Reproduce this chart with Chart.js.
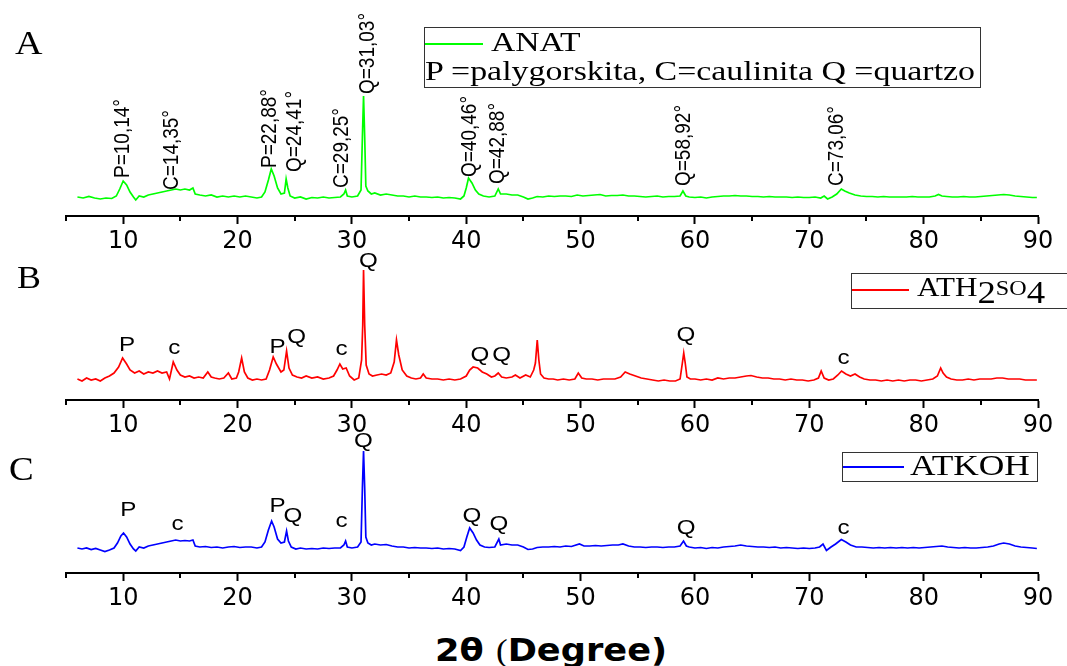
<!DOCTYPE html>
<html lang="pt">
<head>
<meta charset="utf-8">
<title>DRX - ANAT, ATH2SO4, ATKOH</title>
<script src="https://cdn.jsdelivr.net/npm/chart.js@4.4.1/dist/chart.umd.min.js"></script>
<style>
  body { margin: 0; background: #fff; }
  #fig { position: relative; width: 1067px; height: 666px; overflow: hidden; background: #fff; }
  #fig canvas { position: absolute; left: 0; }
  .letra { position: absolute; font-family: "Liberation Serif", serif; line-height: 1; transform: scaleX(1.12); transform-origin: 0 0; }
  .legenda { position: absolute; border: 1.5px solid #333; box-sizing: border-box; background: #fff; }
  .amostra { position: absolute; height: 2px; }
  .leg-txt { position: absolute; font-family: "Liberation Serif", serif; line-height: 1; white-space: nowrap; transform-origin: 0 0; }
  .leg-txt span { line-height: 0; position: relative; }
  .baixo { font-size: 32px; top: 7px; }
  .pequeno { font-size: 21px; top: -1px; }
  #titulo { position: absolute; left: 435px; top: 634px; font-family: "DejaVu Sans", sans-serif; font-weight: bold; font-size: 32px; line-height: 1; white-space: nowrap; transform: scaleX(1.1); transform-origin: 0 0; }
  #titulo span { font-family: "Liberation Serif", serif; font-weight: normal; }
</style>
</head>
<body>
<div id="fig">
  <canvas id="grafA" width="1067" height="250" style="top:10px"></canvas>
  <canvas id="grafB" width="1067" height="250" style="top:194px"></canvas>
  <canvas id="grafC" width="1067" height="250" style="top:367px"></canvas>

  <div class="letra" style="left:15px; top:26px; font-size:34px">A</div>
  <div class="letra" style="left:17px; top:261px; font-size:32px">B</div>
  <div class="letra" style="left:9px; top:453px; font-size:33px">C</div>

  <div class="legenda" style="left:424px; top:27px; width:557px; height:61px">
    <div class="amostra" style="left:0; top:15px; width:58px; background:#00ff00"></div>
    <div class="leg-txt" style="left:66px; top:0; font-size:28px; transform:scaleX(1.2)">ANAT</div>
    <div class="leg-txt" style="left:0; top:29px; font-size:28px; transform:scaleX(1.21)">P =palygorskita, C=caulinita Q =quartzo</div>
  </div>

  <div class="legenda" style="left:851px; top:273px; width:240px; height:36px">
    <div class="amostra" style="left:0; top:15px; width:57px; background:#ff0000"></div>
    <div class="leg-txt" style="left:65px; top:0; font-size:27px; transform:scaleX(1.15)">ATH<span class="baixo">2</span><span class="pequeno">SO</span><span class="baixo">4</span></div>
  </div>

  <div class="legenda" style="left:842px; top:452px; width:196px; height:30px">
    <div class="amostra" style="left:0; top:13px; width:61px; background:#0000ff"></div>
    <div class="leg-txt" style="left:67px; top:-2px; font-size:29px; transform:scaleX(1.22)">ATKOH</div>
  </div>

  <div id="titulo">2θ <span>(</span>Degree)</div>
</div>

<script>
// difratogramas: [2θ (graus), intensidade (u.a.)]
const anat = [
  [6.0,19],[6.5,18],[7.0,19.5],[7.5,18],[8.0,17],[8.5,18],[9.0,17.5],[9.4,20],[9.7,27],[10.0,35],
  [10.3,31],[10.6,24],[10.9,19],[11.1,16],[11.4,20],[11.8,19],[12.2,21],[12.6,22],[13.0,23],[13.4,24],
  [13.8,25],[14.2,26],[14.6,27],[15.0,26],[15.4,27],[15.8,26],[16.1,28],[16.3,22],[16.7,21],[17.2,20],
  [17.7,21],[18.2,19],[18.7,20],[19.2,19],[19.7,20],[20.2,19],[20.7,20],[21.2,19],[21.7,18],[22.1,19],
  [22.4,24],[22.7,36],[22.95,47],[23.2,40],[23.5,28],[23.8,22],[24.1,23],[24.25,37],[24.4,28],[24.6,20],
  [25.0,18],[25.5,19],[26.0,17],[26.5,18.5],[27.0,18],[27.5,19],[28.0,18],[28.5,18.5],[29.0,19],[29.3,22],
  [29.45,26],[29.6,20],[30.0,19],[30.5,20],[30.8,26],[30.92,79],[31.02,120],[31.12,79],[31.22,30],[31.4,25],
  [31.7,22],[32.0,23],[32.5,21],[33.0,22],[33.5,21],[34.0,20],[34.5,20],[35.0,19],[35.5,20],[36.0,19],
  [36.5,19],[37.0,18.5],[37.5,19],[38.0,18],[38.5,18.5],[39.0,18],[39.5,17],[39.8,20],[40.0,28],[40.2,38],
  [40.5,33],[40.8,26],[41.1,22],[41.5,20],[42.0,19],[42.5,20],[42.8,27],[43.0,22],[43.5,22],[44.0,21],
  [44.5,21],[45.0,19],[45.4,17],[45.8,18],[46.2,19.5],[46.7,19],[47.2,20],[47.7,19.5],[48.2,20],[48.7,20],
  [49.2,19.5],[49.7,21],[50.2,20],[50.7,20.5],[51.2,21],[51.7,21.5],[52.2,20],[52.7,20.5],[53.2,20.5],[53.7,21],
  [54.2,20],[54.7,20],[55.2,19.5],[55.7,19],[56.2,19.5],[56.7,20],[57.2,19],[57.7,19.5],[58.2,19.5],[58.7,20],
  [58.95,25],[59.2,20],[59.5,19],[60.0,18.5],[60.5,19],[61.0,18],[61.5,19],[62.0,19.5],[62.5,20],[63.0,20],
  [63.5,20.5],[64.0,20],[64.5,20],[65.0,19.5],[65.5,19.5],[66.0,19],[66.5,19.5],[67.0,19],[67.5,19],[68.0,19],
  [68.5,18.5],[69.0,19],[69.5,18.5],[70.0,18.5],[70.5,19],[71.0,18],[71.3,20],[71.6,17],[72.0,19],[72.4,22],
  [72.8,27],[73.1,25],[73.5,23],[74.0,21],[74.5,20],[75.0,19.5],[75.5,19.5],[76.0,19],[76.5,19.5],[77.0,19],
  [77.5,19],[78.0,19],[78.5,19],[79.0,19.5],[79.5,19],[80.0,19],[80.5,19],[81.0,20],[81.3,21.5],[81.6,20],
  [82.0,19.5],[82.5,19],[83.0,19],[83.5,19.5],[84.0,19],[84.5,19],[85.0,19.5],[85.5,20],[86.0,20.5],[86.5,21],
  [87.0,21.5],[87.5,21],[88.0,20],[88.5,19.5],[89.0,19],[89.5,18.5],[89.9,18.5]
];

const ath2so4 = [
  [6.0,21],[6.4,19],[6.8,22],[7.2,20],[7.6,21],[8.0,19],[8.4,22],[8.8,24],[9.2,27],[9.6,33],
  [9.95,42],[10.3,36],[10.6,30],[11.0,27],[11.4,29],[11.8,26],[12.2,28],[12.6,27],[13.0,29],[13.4,27],
  [13.8,28],[14.05,21],[14.38,38],[14.7,30],[15.0,25],[15.4,23],[15.8,24],[16.2,22],[16.6,23],[17.0,22],
  [17.4,28],[17.7,23],[18.0,22],[18.4,21],[18.8,22],[19.2,27],[19.5,21],[19.9,22],[20.1,28],[20.36,42],
  [20.6,28],[20.9,22],[21.3,20],[21.7,21],[22.1,20],[22.5,21],[22.8,30],[23.12,43],[23.4,36],[23.8,28],
  [24.05,30],[24.29,49],[24.5,32],[24.8,25],[25.2,23],[25.6,22],[26.0,24],[26.5,22],[27.0,23],[27.5,21],
  [28.0,22],[28.4,24],[28.7,30],[28.95,36],[29.2,31],[29.5,32],[29.8,24],[30.2,20],[30.6,22],[30.85,40],
  [30.95,75],[31.02,130],[31.12,75],[31.25,35],[31.5,26],[31.8,24],[32.2,25],[32.6,26],[33.0,25],[33.4,27],
  [33.7,38],[33.9,60],[34.1,45],[34.4,30],[34.8,24],[35.2,22],[35.6,21],[36.0,22],[36.24,26],[36.5,22],
  [37.0,21],[37.5,21],[38.0,20],[38.5,21],[39.0,20],[39.5,21],[40.0,24],[40.3,30],[40.6,33],[41.0,32],
  [41.4,28],[41.8,26],[42.2,23],[42.5,24],[42.8,27],[43.1,23],[43.5,22],[44.0,23],[44.3,25],[44.7,22],
  [45.2,25],[45.6,23],[45.9,30],[46.05,37],[46.21,60],[46.35,40],[46.5,26],[46.8,22],[47.2,21],[47.6,21],
  [48.0,20],[48.5,21],[49.0,20],[49.5,21],[49.8,27],[50.1,22],[50.5,21],[51.0,21],[51.5,20],[52.0,21],
  [52.5,21],[53.0,21],[53.5,23],[53.9,28],[54.3,26],[54.8,24],[55.3,22],[55.8,21],[56.3,20],[56.8,19],
  [57.3,20],[57.8,19],[58.3,19],[58.7,21],[58.9,37],[59.02,47],[59.15,37],[59.3,23],[59.6,21],[60.0,21],
  [60.5,20],[61.0,21],[61.5,20],[62.0,22],[62.5,21],[63.0,22],[63.5,22],[64.0,23],[64.5,24],[64.9,24.5],
  [65.4,23],[65.9,22],[66.4,22],[66.9,21],[67.4,21],[67.9,20],[68.4,21],[68.9,20],[69.4,20],[69.9,19],
  [70.4,20],[70.8,22],[71.04,29],[71.3,22],[71.7,20],[72.1,21],[72.5,25],[72.82,29],[73.2,26],[73.6,24],
  [74.0,26],[74.4,23],[74.8,21],[75.3,20],[75.8,20],[76.3,19],[76.8,20],[77.3,19],[77.8,20],[78.3,19],
  [78.8,20],[79.3,20],[79.8,19],[80.3,20],[80.8,21],[81.2,24],[81.49,32],[81.7,27],[82.0,23],[82.4,21],
  [82.9,20],[83.4,20],[83.9,21],[84.4,20],[84.9,21],[85.4,21],[85.9,21],[86.4,22],[86.9,22],[87.4,21],
  [87.9,21],[88.4,21],[88.9,20],[89.4,20],[89.9,20]
];

const atkoh = [
  [6.0,25],[6.4,24],[6.8,25],[7.2,23.5],[7.6,24.5],[8.0,23],[8.4,21.5],[8.8,23],[9.2,25],[9.5,30],
  [9.8,37],[10.03,40],[10.3,36],[10.6,29],[10.9,24],[11.1,22],[11.4,26],[11.8,25],[12.2,27],[12.6,28],
  [13.0,29],[13.4,30],[13.8,31],[14.2,32],[14.6,33],[15.0,32],[15.4,32.5],[15.8,32],[16.1,33],[16.3,27],
  [16.7,26],[17.2,26.5],[17.7,25.5],[18.2,26],[18.7,25],[19.2,26],[19.7,26.5],[20.2,25.5],[20.7,26],[21.2,26],
  [21.7,25],[22.1,26],[22.4,31],[22.7,43],[22.98,52],[23.2,46],[23.5,34],[23.8,30],[24.1,31],[24.29,42],
  [24.45,32],[24.7,26],[25.1,24],[25.5,25],[26.0,24],[26.5,24.5],[27.0,24],[27.5,25],[28.0,24.5],[28.5,25],
  [29.0,25],[29.3,28],[29.45,32],[29.6,26],[30.0,25],[30.5,26],[30.8,31],[30.92,85],[31.02,122],[31.12,85],
  [31.22,36],[31.4,30],[31.7,28],[32.0,29],[32.5,28],[33.0,28.5],[33.5,27],[34.0,26],[34.5,26],[35.0,25],
  [35.5,25.5],[36.0,25],[36.5,25],[37.0,24.5],[37.5,25],[38.0,24],[38.5,24.5],[39.0,24],[39.5,22.5],[39.8,26],
  [40.05,36],[40.3,45],[40.6,40],[40.9,33],[41.2,28],[41.6,26],[42.0,25.5],[42.5,26],[42.85,34],[43.0,28],
  [43.5,29],[44.0,28],[44.5,28],[45.0,26],[45.4,23.5],[45.8,24],[46.2,25.5],[46.7,26],[47.2,26],[47.7,26.5],
  [48.2,26],[48.7,27],[49.2,26.5],[49.9,29],[50.3,27],[50.8,27],[51.3,27.5],[51.8,27],[52.3,27.5],[52.8,28],
  [53.3,28],[53.7,29],[54.2,27],[54.7,26],[55.2,26],[55.7,25.5],[56.2,26],[56.7,26],[57.2,25.5],[57.7,26],
  [58.2,26],[58.7,27],[59.0,32],[59.25,27],[59.5,26],[60.0,25],[60.5,25.5],[61.0,24.5],[61.5,25.5],[62.0,25],
  [62.5,26],[63.0,26.5],[63.5,27],[64.0,28],[64.5,27],[65.0,26.5],[65.5,26],[66.0,26],[66.5,25.5],[67.0,26],
  [67.5,25],[68.0,25.5],[68.5,25],[69.0,24.5],[69.5,25],[70.0,24.5],[70.5,25],[70.9,26],[71.2,29],[71.5,22.5],
  [71.9,26],[72.3,29],[72.8,33.5],[73.2,31],[73.6,28],[74.1,26],[74.6,26],[75.1,25.5],[75.6,25],[76.1,25.5],
  [76.6,25],[77.1,25.5],[77.6,25],[78.1,25.5],[78.6,25],[79.1,25.5],[79.6,25],[80.1,25.5],[80.6,26],[81.1,26.5],
  [81.6,27],[82.1,26],[82.6,25.5],[83.1,25],[83.6,25.5],[84.1,25],[84.6,25],[85.1,25.5],[85.6,26],[86.1,27],
  [86.6,29],[87.0,30],[87.5,29],[88.0,27],[88.5,26],[89.0,25.5],[89.5,25],[89.9,24.5]
];

// eixo 2θ
const rotulosX = [10, 20, 30, 40, 50, 60, 70, 80, 90];
const ticksMenores = [5, 15, 25, 35, 45, 55, 65, 75, 85];

// identificação dos picos: texto, posição (2θ) e altura da base do rótulo
const picosAnatTexto = ['P=10,14°', 'C=14,35°', 'P=22,88°', 'Q=24,41°', 'C=29,25°', 'Q=31,03°', 'Q=40,46°', 'Q=42,88°', 'Q=58,92°', 'C=73,06°'];
const picosAnatPos = [10.0, 14.25, 22.85, 25.0, 29.15, 31.4, 40.3, 42.8, 59.0, 72.4];
const picosAnatAltura = [38, 26, 48, 44, 28, 122, 39, 32, 30, 30];

const picosAcidoTexto = ['P', 'c', 'P', 'Q', 'c', 'Q', 'Q', 'Q', 'Q', 'c'];
const picosAcidoPos = [10.35, 14.46, 23.5, 25.17, 29.1, 31.45, 41.2, 43.1, 59.2, 73.0];
const picosAcidoAltura = [49, 46, 47, 57, 45, 133, 39, 39, 59, 36];

const picosBaseTexto = ['P', 'c', 'P', 'Q', 'c', 'Q', 'Q', 'Q', 'Q', 'c'];
const picosBasePos = [10.45, 14.75, 23.5, 24.85, 29.1, 31.0, 40.5, 42.85, 59.24, 73.0];
const picosBaseAltura = [57, 43, 61, 51, 46, 126, 51, 43, 39, 39];

// escreve os rótulos dos picos
const rotulosPicos = {
  id: 'rotulosPicos',
  afterDatasetsDraw(chart, args, opts) {
    const ctx = chart.ctx;
    const x = chart.scales.x;
    const y = chart.scales.y;
    ctx.save();
    ctx.fillStyle = '#000';
    ctx.font = opts.fonte;
    opts.textos.forEach((t, i) => {
      ctx.save();
      ctx.translate(x.getPixelForValue(opts.pos[i]), y.getPixelForValue(opts.alturas[i]));
      ctx.scale(1.15, 1);
      if (opts.vertical) {
        ctx.rotate(-Math.PI / 2);
        ctx.textAlign = 'left';
        ctx.textBaseline = 'middle';
      } else {
        ctx.textAlign = 'center';
        ctx.textBaseline = 'alphabetic';
      }
      ctx.fillText(t, 0, 0);
      ctx.restore();
    });
    ctx.restore();
  }
};

// ticks menores (a cada 5 graus), mais curtos que os principais
const menores = {
  id: 'menores',
  afterDraw(chart) {
    const ctx = chart.ctx;
    const x = chart.scales.x;
    const base = chart.chartArea.bottom;
    ctx.save();
    ctx.strokeStyle = '#000';
    ctx.lineWidth = 2;
    ticksMenores.forEach(v => {
      const px = Math.round(x.getPixelForValue(v));
      ctx.beginPath();
      ctx.moveTo(px, base);
      ctx.lineTo(px, base + 5);
      ctx.stroke();
    });
    ctx.restore();
  }
};

function grafico(id, dados, cor, picos) {
  new Chart(document.getElementById(id), {
    type: 'line',
    data: {
      datasets: [{
        data: dados.map(p => ({ x: p[0], y: p[1] })),
        borderColor: cor,
        borderWidth: 1.7,
        pointRadius: 0,
        tension: 0,
        fill: false
      }]
    },
    options: {
      responsive: false,
      animation: false,
      layout: { padding: { left: 66, right: 29, top: 6, bottom: 0 } },
      plugins: {
        legend: { display: false },
        tooltip: { enabled: false },
        rotulosPicos: picos
      },
      scales: {
        x: {
          type: 'linear',
          min: 5,
          max: 90,
          afterBuildTicks: s => { s.ticks = rotulosX.map(v => ({ value: v })); },
          afterFit: s => { s.height = 44; },
          ticks: {
            color: '#000',
            font: { family: 'DejaVu Sans', size: 24 },
            padding: 3,
            maxRotation: 0,
            autoSkip: false
          },
          grid: { drawOnChartArea: false, tickLength: 8, tickWidth: 2, tickColor: '#000' },
          border: { color: '#000', width: 2 }
        },
        y: { display: false, min: 0, max: 200 }
      }
    },
    plugins: [rotulosPicos, menores]
  });
}

grafico('grafA', anat, '#00ff00', {
  textos: picosAnatTexto, pos: picosAnatPos, alturas: picosAnatAltura,
  vertical: true, fonte: '19px "Liberation Sans"'
});
grafico('grafB', ath2so4, '#ff0000', {
  textos: picosAcidoTexto, pos: picosAcidoPos, alturas: picosAcidoAltura,
  vertical: false, fonte: '21px "Liberation Sans"'
});
grafico('grafC', atkoh, '#0000ff', {
  textos: picosBaseTexto, pos: picosBasePos, alturas: picosBaseAltura,
  vertical: false, fonte: '21px "Liberation Sans"'
});
</script>
</body>
</html>
